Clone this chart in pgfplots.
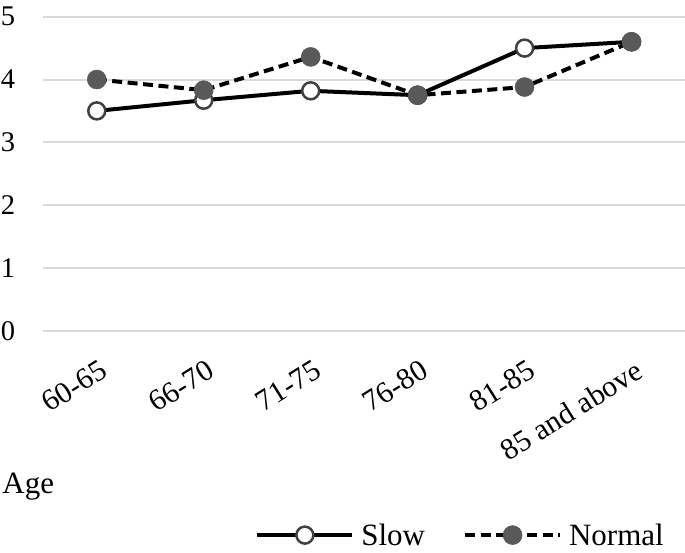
\documentclass[border=0pt]{standalone}
\usepackage{fontspec}
\setmainfont{Liberation Serif}
\usepackage{pgfplots}
\pgfplotsset{compat=1.18}
\definecolor{gridc}{HTML}{D9D9D9}
\definecolor{mk}{HTML}{595959}
\definecolor{mkb}{HTML}{404040}
\begin{document}
\begin{tikzpicture}
\begin{axis}[
 scale only axis, width=641.7bp, height=314bp,
 xmin=-0.5, xmax=5.5, ymin=0, ymax=5,
 xtick={0,...,5}, xticklabels={60-65,66-70,71-75,76-80,81-85,85 and above},
 ytick={0,...,5},
 axis line style={draw=none}, major tick length=0pt,
 ymajorgrids, grid style={gridc, line width=2bp},
 /pgf/number format/assume math mode=true,
 yticklabel style={font=\fontsize{28.5bp}{34bp}\selectfont, inner sep=0pt, xshift=-28bp},
 xticklabel style={font=\fontsize{30bp}{34bp}\selectfont, xshift=2bp, yshift=-28bp, rotate=32, anchor=north east, inner sep=0pt},
 clip=false,
 xlabel={Age},
 xlabel style={at={(axis description cs:-0.064,-0.517)}, anchor=base west, inner sep=0pt, font=\fontsize{31bp}{36bp}\selectfont},
 legend columns=2,
 legend style={at={(axis description cs:0.975,-0.651)}, anchor=east, draw=none, fill=none, font=\fontsize{31bp}{36bp}\selectfont, /tikz/every even column/.append style={column sep=36bp}},
 legend image code/.code={\draw[mark repeat=2,mark phase=2,#1] plot coordinates {(0bp,0bp) (47.5bp,0bp) (95bp,0bp)}; \path (100bp,0bp);},
]
\addplot[black, line width=4bp, mark=*, mark size=8.5bp, mark options={solid, fill=white, draw=mkb, line width=2.5bp}]
 coordinates {(0,3.50) (1,3.67) (2,3.82) (3,3.75) (4,4.50) (5,4.60)};
\addlegendentry{Slow}
\addplot[black, line width=4bp, dash pattern=on 10bp off 5.5bp, mark=*, mark size=9.5bp, mark options={solid, fill=mk, draw=mk, line width=0.5bp}]
 coordinates {(0,4.00) (1,3.83) (2,4.36) (3,3.75) (4,3.88) (5,4.60)};
\addlegendentry{Normal}
\end{axis}
\pgfresetboundingbox
\useasboundingbox (-43.3bp,-222.3bp) rectangle (641.7bp,330.7bp);
\end{tikzpicture}
\end{document}
